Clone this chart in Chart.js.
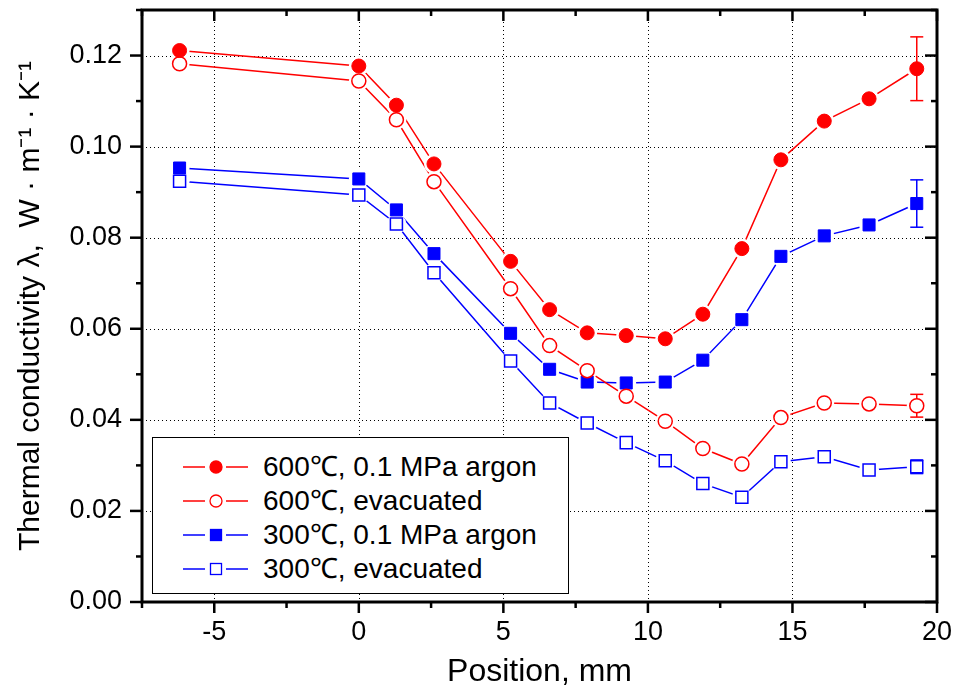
<!DOCTYPE html>
<html>
<head>
<meta charset="utf-8">
<script src="https://cdn.jsdelivr.net/npm/chart.js@4.4.1/dist/chart.umd.min.js"></script>
<style>
  body { margin: 0; background: #fff; }
  #wrap { position: relative; width: 957px; height: 696px; }
  #legend {
    position: absolute; left: 152px; top: 437px; width: 417px; height: 157px;
    box-sizing: border-box; border: 1.5px solid #000; background: #fff;
    font-family: 'Liberation Sans', Arial, sans-serif; font-size: 28px; color: #000;
  }
  #legend .row { position: absolute; left: 0; height: 34px; line-height: 34px; white-space: nowrap; }
  #legend svg { position: absolute; left: 30px; top: 7px; }
  #legend span { position: absolute; left: 110px; top: 0; }
</style>
</head>
<body>
<div id="wrap">
  <canvas id="chart" width="957" height="696"></canvas>
  <div id="legend"></div>
</div>
<script>
// measurement positions (mm)
const positions = [-6.2, 0, 1.3, 2.6, 5.25, 6.6, 7.9, 9.25, 10.6, 11.9, 13.25, 14.6, 16.1, 17.65, 19.3];

// thermal conductivity, W/(m K)
const argon600 = [0.1211, 0.1177, 0.1091, 0.0962, 0.0748, 0.0642, 0.0591, 0.0585, 0.0578, 0.0632, 0.0776, 0.0971, 0.1056, 0.1105, 0.1171];
const evac600  = [0.1182, 0.1144, 0.1059, 0.0923, 0.0688, 0.0563, 0.0508, 0.0452, 0.0397, 0.0337, 0.0303, 0.0405, 0.0437, 0.0435, 0.0431];
const argon300 = [0.0953, 0.0929, 0.0861, 0.0765, 0.0590, 0.0511, 0.0483, 0.0481, 0.0483, 0.0531, 0.0620, 0.0759, 0.0804, 0.0828, 0.0875];
const evac300  = [0.0924, 0.0894, 0.0830, 0.0723, 0.0529, 0.0437, 0.0393, 0.0350, 0.0310, 0.0260, 0.0230, 0.0308, 0.0319, 0.0290, 0.0297];

// error bar (+/-) on the last point of each series
const lastErrors = [0.007, 0.0025, 0.0052, 0.0015];

const seriesNames = ['600℃, 0.1 MPa argon', '600℃, evacuated', '300℃, 0.1 MPa argon', '300℃, evacuated'];
const seriesValues = [argon600, evac600, argon300, evac300];

// axis ticks
const xMajor = [-5, 0, 5, 10, 15, 20];
const xMinor = [-7.5, -2.5, 2.5, 7.5, 12.5, 17.5];
const yMajor = [0, 0.02, 0.04, 0.06, 0.08, 0.10, 0.12];
const yMinor = [0.01, 0.03, 0.05, 0.07, 0.09, 0.11, 0.13];

const styles = [
    { color: '#ff0000', shape: 'circle', filled: true },
    { color: '#ff0000', shape: 'circle', filled: false },
    { color: '#0000ff', shape: 'rect', filled: true },
    { color: '#0000ff', shape: 'rect', filled: false }
];

const FONT = "'Liberation Sans', Arial, sans-serif";

const datasets = [];
seriesValues.forEach((vals, i) => {
    const s = styles[i];
    const pts = positions.map((x, j) => ({ x, y: vals[j] }));
    const last = pts[pts.length - 1];
    const e = lastErrors[i];

    // connecting line
    datasets.push({
        label: seriesNames[i], data: pts, order: 4,
        borderColor: s.color, borderWidth: 1.5, pointRadius: 0, showLine: true
    });
    // white gap round each marker (Origin style)
    datasets.push({
        data: pts, order: 3, showLine: false,
        pointRadius: 10, pointBackgroundColor: '#ffffff', pointBorderWidth: 0
    });
    // error bar
    datasets.push({
        data: [{ x: last.x, y: last.y - e }, { x: last.x, y: last.y + e }], order: 2,
        borderColor: s.color, borderWidth: 1.5, showLine: true,
        pointStyle: 'line', pointRadius: 6.5, pointBorderColor: s.color, pointBorderWidth: 1.5
    });
    // markers
    datasets.push({
        data: pts, order: 1, showLine: false,
        pointStyle: s.shape,
        pointRadius: s.shape === 'rect' ? 8.5 : 7,
        pointBackgroundColor: s.filled ? s.color : '#ffffff',
        pointBorderColor: s.color,
        pointBorderWidth: s.filled ? 1 : 1.5
    });
});

// dotted grid, frame and in/out ticks
const framePlugin = {
    id: 'frame',
    beforeDatasetsDraw(chart) {
        const { ctx, chartArea: a, scales: { x, y } } = chart;
        ctx.save();
        ctx.strokeStyle = '#000';
        ctx.lineWidth = 1;
        ctx.setLineDash([1, 3]);
        xMajor.forEach(v => {
            const px = Math.round(x.getPixelForValue(v)) + 0.5;
            if (px <= a.left + 2 || px >= a.right - 2) return;
            ctx.beginPath(); ctx.moveTo(px, a.top); ctx.lineTo(px, a.bottom); ctx.stroke();
        });
        yMajor.forEach(v => {
            const py = Math.round(y.getPixelForValue(v)) + 0.5;
            if (py <= a.top + 2 || py >= a.bottom - 2) return;
            ctx.beginPath(); ctx.moveTo(a.left, py); ctx.lineTo(a.right, py); ctx.stroke();
        });
        ctx.restore();
    },
    afterDraw(chart) {
        const { ctx, chartArea: a, scales: { x, y } } = chart;
        ctx.save();
        ctx.strokeStyle = '#000';
        ctx.lineWidth = 2.5;
        const seg = (x1, y1, x2, y2) => { ctx.beginPath(); ctx.moveTo(x1, y1); ctx.lineTo(x2, y2); ctx.stroke(); };
        xMajor.concat(xMinor).forEach(v => {
            const len = xMajor.includes(v) ? 11 : 6;
            const px = x.getPixelForValue(v);
            seg(px, a.bottom, px, a.bottom + len);
            seg(px, a.top, px, a.top + len);
        });
        yMajor.concat(yMinor).forEach(v => {
            const len = yMajor.includes(v) ? 12 : 6;
            const py = y.getPixelForValue(v);
            seg(a.left, py, a.left - len, py);
            seg(a.right, py, a.right - len, py);
        });
        ctx.lineWidth = 3;
        ctx.strokeRect(a.left, a.top, a.right - a.left, a.bottom - a.top);
        ctx.restore();
    }
};

new Chart(document.getElementById('chart'), {
    type: 'line',
    data: { datasets },
    options: {
        responsive: false,
        animation: false,
        layout: { padding: { left: 0, top: 7, right: 20, bottom: 0 } },
        plugins: { legend: { display: false }, tooltip: { enabled: false } },
        scales: {
            x: {
                type: 'linear', min: -7.5, max: 20,
                afterBuildTicks: s => { s.ticks = xMajor.map(v => ({ value: v })); },
                afterFit: s => { s.height = 94; s.paddingLeft = 0; s.paddingRight = 0; },
                grid: { display: false, drawTicks: false },
                border: { display: false },
                ticks: { color: '#000', padding: 14, font: { family: FONT, size: 27 }, callback: v => String(v) },
                title: { display: true, text: 'Position, mm', color: '#000', font: { family: FONT, size: 32 }, padding: { top: 0, bottom: 5 } }
            },
            y: {
                type: 'linear', min: 0, max: 0.13,
                afterBuildTicks: s => { s.ticks = yMajor.map(v => ({ value: v })); },
                afterFit: s => { s.width = 142; s.paddingTop = 0; s.paddingBottom = 0; },
                grid: { display: false, drawTicks: false },
                border: { display: false },
                ticks: { color: '#000', padding: 20, font: { family: FONT, size: 27 }, callback: v => v.toFixed(2) },
                title: { display: true, text: 'Thermal conductivity λ,  W · m⁻¹ · K⁻¹', color: '#000', font: { family: FONT, size: 30 }, padding: { top: 13, bottom: 0 } }
            }
        }
    },
    plugins: [framePlugin]
});

// legend: line - marker - line, as in the original
const legend = document.getElementById('legend');
seriesNames.forEach((name, i) => {
    const s = styles[i];
    const fill = s.filled ? s.color : '#ffffff';
    const marker = s.shape === 'circle'
        ? `<circle cx="33" cy="10" r="6" fill="${fill}" stroke="${s.color}" stroke-width="1.3"/>`
        : `<rect x="27.5" y="4.5" width="11" height="11" fill="${fill}" stroke="${s.color}" stroke-width="1.3"/>`;
    const row = document.createElement('div');
    row.className = 'row';
    row.style.top = (12 + i * 34) + 'px';
    row.innerHTML =
        `<svg width="70" height="20">` +
        `<line x1="0" y1="10" x2="22" y2="10" stroke="${s.color}" stroke-width="1.5"/>` +
        `<line x1="43" y1="10" x2="65" y2="10" stroke="${s.color}" stroke-width="1.5"/>` +
        marker + `</svg><span>${name}</span>`;
    legend.appendChild(row);
});
</script>
</body>
</html>
